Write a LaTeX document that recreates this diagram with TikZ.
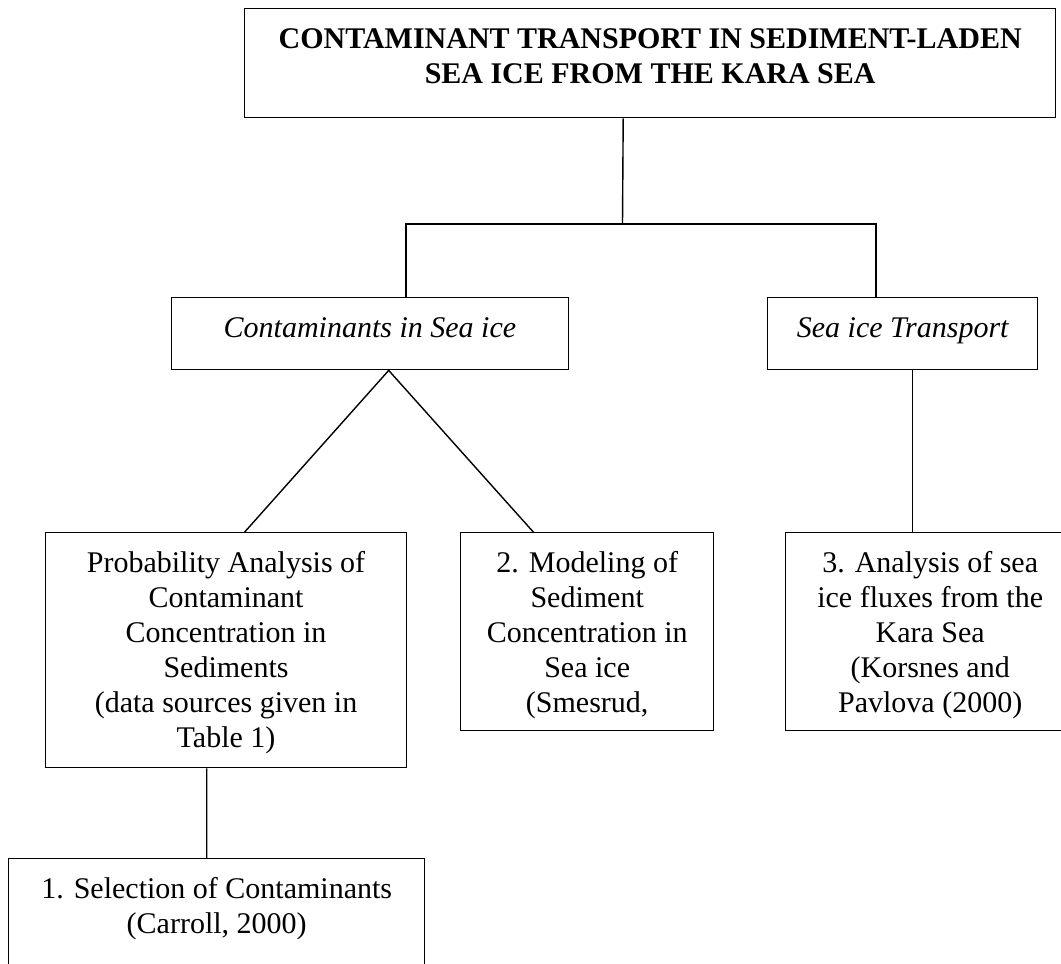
\documentclass[tikz,border=0pt]{standalone}
\usepackage{fontspec}
\setmainfont{Liberation Serif}
\newcommand{\bxt}[3]{\parbox[c][#2][t]{#1}{\fontsize{30}{35}\selectfont\centering\rule{0pt}{39.5pt}#3\par}}
\begin{document}
\begin{tikzpicture}[x=1pt,y=-1pt,
  box/.style={draw, line width=1.4pt, inner sep=0pt, anchor=north west},
  conn/.style={line width=1.4pt}]
\path[use as bounding box] (0,0) rectangle (1061,964);
\clip (0,0) rectangle (1061,964);
\node[box] (top) at (244,8) {\bxt{811pt}{109pt}{\bfseries CONTAMINANT TRANSPORT IN SEDIMENT-LADEN\\ SEA ICE FROM THE KARA SEA}};
\node[box] (cont) at (170.5,297) {\bxt{397.5pt}{72pt}{\itshape Contaminants in Sea ice}};
\node[box] (trans) at (767,297) {\bxt{270pt}{72pt}{\itshape Sea ice Transport}};
\node[box] (prob) at (44.7,532) {\bxt{361.3pt}{235pt}{Probability Analysis of\\ Contaminant\\ Concentration in\\ Sediments\\ (data sources given in\\ Table 1)}};
\node[box] (model) at (460,532) {\bxt{253pt}{198pt}{2. Modeling of\\ Sediment\\ Concentration in\\ Sea ice\\ (Smesrud,}};
\node[box] (anal) at (785,532) {\bxt{289pt}{198pt}{3. Analysis of sea\\ ice fluxes from the\\ Kara Sea\\ (Korsnes and\\ Pavlova (2000)}};
\node[box] (sel) at (8,858) {\bxt{416pt}{150pt}{1. Selection of Contaminants\\ (Carroll, 2000)}};
\coordinate (j1) at (622.5,224);
\coordinate (jl) at (406,224);
\coordinate (jr) at (876,224);
\draw[conn] ([xshift=-27pt]top.south) -- (j1);
\draw[conn] (jl |- cont.north) -- (jl) -- (jr) -- (jr |- trans.north);
\draw[conn] ([xshift=18.65pt]prob.north) -- ([xshift=18.75pt]cont.south) -- ([xshift=-53.9pt]model.north);
\draw[conn] ([xshift=9.5pt]trans.south) -- ([xshift=-18pt]anal.north);
\draw[conn] ([xshift=-19.35pt]prob.south) -- ([xshift=-10pt]sel.north);
\end{tikzpicture}
\end{document}
